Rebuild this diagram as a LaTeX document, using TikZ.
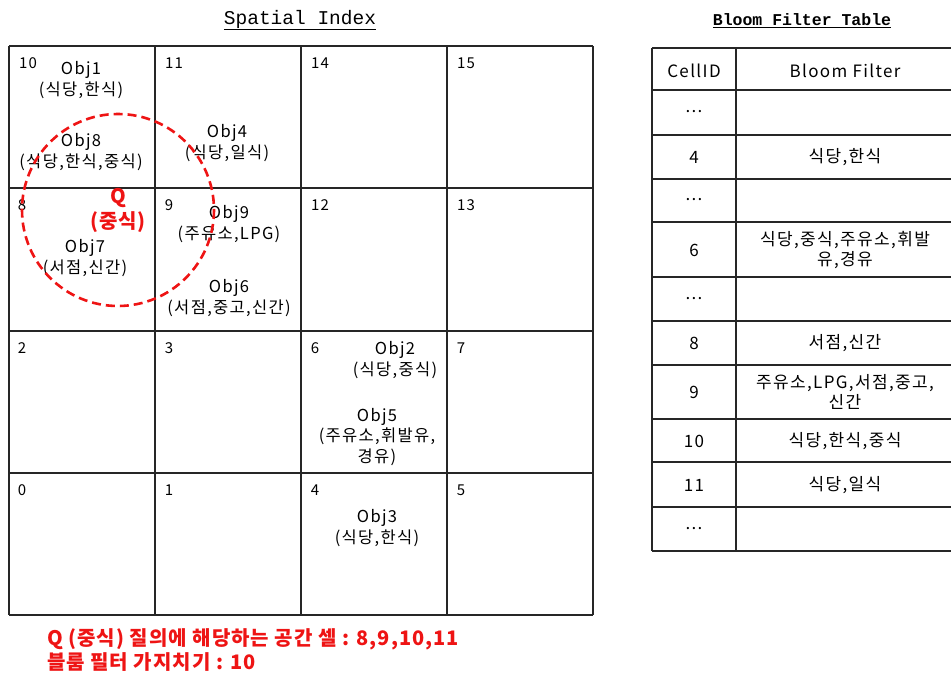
\documentclass[tikz,border=0pt]{standalone}
\usepackage{fontspec}
\newfontfamily\kr[LetterSpace=8]{Noto Sans CJK KR}
\newfontfamily\krr[LetterSpace=5]{Noto Sans CJK KR}
\newfontfamily\mono{Liberation Mono}
\definecolor{qred}{RGB}{238,20,20}
\begin{document}
\begin{tikzpicture}[x=1pt,y=-1pt,
  gridline/.style={line width=1.4pt,black!85},
  celltxt/.style={font=\kr\fontsize{16.5}{20.5}\selectfont,align=center,inner sep=0pt},
  cellnum/.style={font=\kr\fontsize{15}{16}\selectfont,inner sep=0pt},
  tabtxt/.style={font=\kr\fontsize{17}{19.5}\selectfont,align=center,inner sep=0pt},
  redtxt/.style={font=\krr\bfseries\fontsize{20}{22}\selectfont,text=qred,inner sep=0pt},
  qcircle/.style={draw=qred,line width=2.6pt,dash pattern=on 9pt off 5pt}]
\useasboundingbox (0,0) rectangle (951,677);
% titles
\node[font=\mono\fontsize{19.5}{22}\selectfont,inner sep=0pt] (t1) at (300,20) {\underline{Spatial Index}};
\node[font=\mono\bfseries\fontsize{16.5}{20}\selectfont,inner sep=0pt] (t2) at (802,21) {\underline{Bloom Filter Table}};
% grid
\foreach \x in {9,155,301,447,593} \draw[gridline] (\x,46) -- (\x,615);
\foreach \y in {46,188,331,473,615} \draw[gridline] (9,\y) -- (593,\y);
% cell numbers
\node[cellnum] (n10) at (28,63) {10};
\node[cellnum] (n11) at (174,63) {11};
\node[cellnum] (n14) at (320,63) {14};
\node[cellnum] (n15) at (466,63) {15};
\node[cellnum] (n8) at (22,205) {8};
\node[cellnum] (n9) at (169,205) {9};
\node[cellnum] (n12) at (320,205) {12};
\node[cellnum] (n13) at (466,205) {13};
\node[cellnum] (n2) at (22,348) {2};
\node[cellnum] (n3) at (169,348) {3};
\node[cellnum] (n6) at (315,348) {6};
\node[cellnum] (n7) at (461,348) {7};
\node[cellnum] (n0) at (22,490) {0};
\node[cellnum] (n1) at (169,490) {1};
\node[cellnum] (n4) at (315,490) {4};
\node[cellnum] (n5) at (461,490) {5};
% objects
\node[celltxt] (o1) at (81,80) {Obj1\\(식당,한식)};
\node[celltxt] (o8) at (81,152) {Obj8\\(식당,한식,중식)};
\node[celltxt] (o4) at (227,143) {Obj4\\(식당,일식)};
\node[celltxt] (o7) at (85,258) {Obj7\\(서점,신간)};
\node[celltxt] (o9) at (229,224) {Obj9\\(주유소,LPG)};
\node[celltxt] (o6) at (229,298) {Obj6\\(서점,중고,신간)};
\node[celltxt] (o2) at (395,360) {Obj2\\(식당,중식)};
\node[celltxt] (o5) at (377,437) {Obj5\\(주유소,휘발유,\\경유)};
\node[celltxt] (o3) at (377,528) {Obj3\\(식당,한식)};
% query circle
\draw[qcircle] (118,210) circle (96);
\node[redtxt] (q) at (118,198) {Q};
\node[redtxt] (qk) at (118,222) {(중식)};
% table
\foreach \y in {48,90,135,179,222,277,321,365,419,462,507,551} \draw[gridline] (652,\y) -- (951,\y);
\draw[gridline] (652,48) -- (652,551);
\draw[gridline] (736,48) -- (736,551);
\node[tabtxt] (h1) at (694,71) {CellID};
\node[tabtxt] (h2) at (845,71) {Bloom Filter};
\node[tabtxt] (r1) at (694,112) {...};
\node[tabtxt] (r2) at (694,157) {4};
\node[tabtxt] (r2b) at (845,157) {식당,한식};
\node[tabtxt] (r3) at (694,200) {...};
\node[tabtxt] (r4) at (694,250) {6};
\node[tabtxt] (r4b) at (845,250) {식당,중식,주유소,휘발\\유,경유};
\node[tabtxt] (r5) at (694,299) {...};
\node[tabtxt] (r6) at (694,343) {8};
\node[tabtxt] (r6b) at (845,343) {서점,신간};
\node[tabtxt] (r7) at (694,392) {9};
\node[tabtxt] (r7b) at (845,392) {주유소,LPG,서점,중고,\\신간};
\node[tabtxt] (r8) at (694,441) {10};
\node[tabtxt] (r8b) at (845,441) {식당,한식,중식};
\node[tabtxt] (r9) at (694,485) {11};
\node[tabtxt] (r9b) at (845,485) {식당,일식};
\node[tabtxt] (r10) at (694,529) {...};
% bottom notes
\node[redtxt,anchor=west] (b1) at (47,639) {Q (중식) 질의에 해당하는 공간 셀 : 8,9,10,11};
\node[redtxt,anchor=west] (b2) at (47,662) {블룸 필터 가지치기 : 10};
\end{tikzpicture}
\end{document}
